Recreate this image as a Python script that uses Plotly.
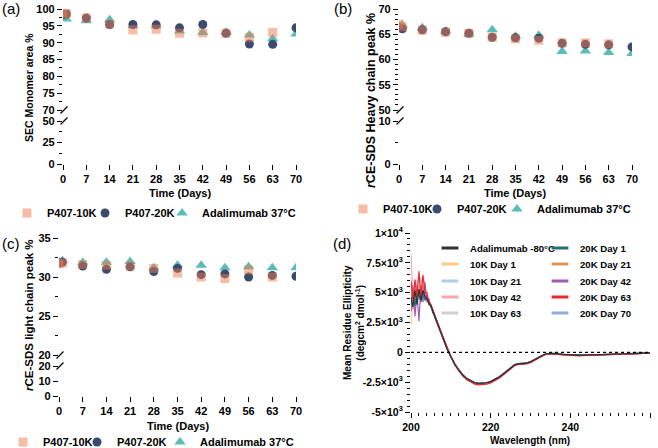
import plotly.graph_objects as go

# ---------------- data ----------------
days = [0, 1, 7, 14, 21, 28, 35, 42, 49, 56, 63, 70]
day_ticks = [0, 7, 14, 21, 28, 35, 42, 49, 56, 63, 70]

sec_10k = [98.5, 98.7, 97.3, 95.5, 93.8, 94.0, 92.8, 92.9, 92.8, 91.6, 93.0, None]
sec_20k = [98.3, 98.5, 97.3, 95.4, 95.4, 95.3, 94.4, 95.4, 92.8, 89.6, 89.5, 94.4]
sec_adal = [97.6, 97.0, 96.5, 96.8, 95.0, 95.0, 93.5, 93.0, 93.1, 92.3, 91.2, 92.6]

hc_10k = [67.0, 66.5, 65.8, 65.4, 65.2, 64.4, 64.1, 63.8, 63.3, 63.3, 63.1, None]
hc_20k = [66.3, 66.1, 65.9, 65.5, 65.2, 64.4, 64.3, 64.2, 63.2, 63.0, 62.9, 62.5]
hc_adal = [66.6, 66.8, 66.3, 65.6, 65.0, 65.9, 64.6, 64.8, 61.6, 61.7, 61.4, 61.2]

lc_10k = [31.7, 31.8, 31.6, 31.5, 31.4, 31.1, 30.5, 30.0, 29.8, 30.9, 30.0, None]
lc_20k = [31.8, 31.9, 31.4, 31.0, 31.3, 30.7, 31.1, 30.3, 30.4, 30.0, 30.2, 30.1]
lc_adal = [31.9, 32.1, 31.9, 31.9, 32.0, 31.2, 31.5, 31.5, 31.2, 31.3, 31.2, 31.2]

series_names = ["P407-10K", "P407-20K", "Adalimumab 37°C"]

# CD spectra (x10^3 deg cm2 dmol-1)
wavelength = [200, 200.5, 201, 201.5, 202, 202.5, 203, 203.5, 204, 204.5, 205, 205.5, 206,
              207, 208, 209, 210, 211, 212, 213, 214, 215, 216, 217, 218, 219, 220,
              221, 222, 223, 224, 225, 226, 227, 228, 229, 230, 231, 232, 233, 234, 235, 236,
              238, 240, 242, 244, 246, 248, 250, 252, 254, 256, 258, 260]

cd_names = ["Adalimumab -80°C", "10K Day 1", "10K Day 21", "10K Day 42", "10K Day 63",
            "20K Day 1", "20K Day 21", "20K Day 42", "20K Day 63", "20K Day 70"]

cd_head = {
    "Adalimumab -80°C": [4.6, 3.8, 5.2, 4.0, 5.3, 4.4, 5.2, 4.7, 4.5, 4.1, 3.9, 3.4, 3.0],
    "10K Day 1": [2.3, 4.9, 4.2, 5.6, 4.8, 5.9, 4.6, 5.2, 4.3, 4.4, 3.8, 3.5, 2.9],
    "10K Day 21": [3.5, 5.3, 4.3, 6.1, 4.4, 6.3, 4.9, 5.5, 4.4, 4.3, 3.9, 3.3, 3.1],
    "10K Day 42": [8.3, 4.2, 5.8, 4.1, 5.6, 4.9, 5.8, 4.6, 4.7, 4.0, 4.0, 3.4, 3.0],
    "10K Day 63": [5.2, 4.3, 4.9, 5.0, 4.6, 5.4, 4.8, 4.9, 4.3, 4.2, 3.8, 3.4, 3.0],
    "20K Day 1": [4.2, 5.0, 3.9, 4.9, 4.8, 4.2, 5.1, 4.4, 4.6, 4.0, 3.9, 3.3, 3.0],
    "20K Day 21": [5.5, 3.6, 5.4, 4.5, 5.2, 4.8, 5.6, 4.3, 4.8, 4.1, 3.9, 3.4, 3.1],
    "20K Day 42": [3.4, 5.6, 3.0, 5.0, 2.6, 5.6, 4.2, 5.9, 4.2, 4.5, 3.8, 3.5, 2.9],
    "20K Day 63": [6.0, 4.4, 6.1, 4.7, 6.8, 4.5, 6.5, 5.0, 5.0, 4.2, 4.0, 3.5, 3.1],
    "20K Day 70": [5.0, 4.6, 5.2, 5.6, 4.9, 5.1, 5.5, 4.8, 4.6, 4.3, 3.9, 3.4, 3.0],
}
cd_tail = {
    "Adalimumab -80°C": [2.1, 1.2, 0.35, -0.35, -1.0, -1.5, -1.9, -2.2, -2.4, -2.55, -2.6, -2.6, -2.55, -2.45,
                         -2.3, -2.1, -1.85, -1.6, -1.3, -1.05, -0.95, -0.97, -0.9, -0.8, -0.62, -0.45, -0.25,
                         -0.12, -0.08, -0.1, -0.17, -0.22, -0.25, -0.23, -0.22, -0.19, -0.17, -0.14, -0.12,
                         -0.1, -0.07, -0.06],
    "10K Day 1": [2.0, 1.15, 0.3, -0.4, -1.05, -1.55, -1.95, -2.25, -2.45, -2.6, -2.66, -2.64, -2.58, -2.48,
                  -2.32, -2.12, -1.88, -1.62, -1.32, -1.08, -0.98, -0.96, -0.92, -0.82, -0.62, -0.47, -0.27,
                  -0.14, -0.1, -0.13, -0.22, -0.28, -0.3, -0.27, -0.25, -0.22, -0.2, -0.17, -0.13,
                  -0.11, -0.1, -0.07],
    "10K Day 21": [2.15, 1.25, 0.38, -0.38, -1.03, -1.55, -1.95, -2.26, -2.47, -2.62, -2.7, -2.68, -2.6, -2.5,
                   -2.33, -2.13, -1.88, -1.62, -1.33, -1.07, -0.97, -0.97, -0.92, -0.81, -0.6, -0.45, -0.26,
                   -0.12, -0.08, -0.11, -0.19, -0.23, -0.25, -0.24, -0.21, -0.2, -0.17, -0.15, -0.12,
                   -0.1, -0.08, -0.05],
    "10K Day 42": [2.12, 1.22, 0.36, -0.36, -1.02, -1.52, -1.93, -2.23, -2.43, -2.58, -2.65, -2.63, -2.57, -2.47,
                   -2.31, -2.11, -1.86, -1.61, -1.31, -1.06, -0.96, -0.96, -0.91, -0.8, -0.61, -0.46, -0.25,
                   -0.12, -0.09, -0.1, -0.18, -0.22, -0.24, -0.24, -0.22, -0.2, -0.17, -0.14, -0.12,
                   -0.1, -0.08, -0.06],
    "10K Day 63": [2.08, 1.18, 0.33, -0.37, -1.01, -1.51, -1.91, -2.21, -2.41, -2.56, -2.63, -2.61, -2.56, -2.46,
                   -2.3, -2.1, -1.85, -1.6, -1.3, -1.05, -0.95, -0.95, -0.9, -0.8, -0.6, -0.45, -0.25,
                   -0.12, -0.08, -0.1, -0.18, -0.22, -0.25, -0.24, -0.22, -0.2, -0.17, -0.15, -0.12,
                   -0.1, -0.08, -0.06],
    "20K Day 1": [2.1, 1.2, 0.34, -0.36, -1.0, -1.5, -1.9, -2.2, -2.4, -2.54, -2.6, -2.59, -2.54, -2.44,
                  -2.29, -2.09, -1.84, -1.59, -1.29, -1.04, -0.94, -0.94, -0.89, -0.79, -0.59, -0.44, -0.24,
                  -0.11, -0.07, -0.09, -0.17, -0.21, -0.24, -0.23, -0.21, -0.19, -0.16, -0.14, -0.11,
                  -0.09, -0.07, -0.05],
    "20K Day 21": [2.05, 1.17, 0.32, -0.38, -1.03, -1.53, -1.93, -2.23, -2.43, -2.58, -2.64, -2.62, -2.57, -2.47,
                   -2.31, -2.11, -1.86, -1.61, -1.31, -1.06, -0.96, -0.96, -0.91, -0.81, -0.61, -0.46, -0.26,
                   -0.13, -0.1, -0.12, -0.2, -0.25, -0.27, -0.26, -0.24, -0.22, -0.19, -0.16, -0.13,
                   -0.11, -0.09, -0.07],
    "20K Day 42": [2.1, 1.2, 0.35, -0.35, -1.0, -1.5, -1.9, -2.2, -2.4, -2.55, -2.62, -2.6, -2.55, -2.45,
                   -2.3, -2.1, -1.85, -1.6, -1.3, -1.05, -0.95, -0.95, -0.9, -0.8, -0.6, -0.45, -0.25,
                   -0.12, -0.08, -0.1, -0.18, -0.22, -0.25, -0.24, -0.22, -0.2, -0.17, -0.15, -0.12,
                   -0.1, -0.08, -0.06],
    "20K Day 63": [2.2, 1.3, 0.4, -0.38, -1.06, -1.58, -2.0, -2.3, -2.5, -2.66, -2.73, -2.72, -2.66, -2.56,
                   -2.4, -2.2, -1.95, -1.68, -1.38, -1.12, -1.02, -1.02, -0.96, -0.86, -0.66, -0.5, -0.3,
                   -0.16, -0.12, -0.14, -0.21, -0.25, -0.27, -0.26, -0.24, -0.22, -0.19, -0.16, -0.13,
                   -0.11, -0.09, -0.07],
    "20K Day 70": [2.12, 1.22, 0.37, -0.33, -0.98, -1.48, -1.88, -2.19, -2.4, -2.56, -2.65, -2.64, -2.58, -2.47,
                   -2.31, -2.11, -1.86, -1.61, -1.31, -1.06, -0.96, -0.95, -0.9, -0.8, -0.6, -0.45, -0.25,
                   -0.12, -0.08, -0.1, -0.18, -0.22, -0.24, -0.24, -0.22, -0.2, -0.17, -0.15, -0.12,
                   -0.1, -0.08, -0.06],
}
for _n in cd_names:
    assert len(cd_head[_n]) + len(cd_tail[_n]) == len(wavelength), _n

cd_tickvals = [-5, -2.5, 0, 2.5, 5, 7.5, 10]
cd_ticktext = ["-5×10<sup>3</sup>", "-2.5×10<sup>3</sup>", "0", "2.5×10<sup>3</sup>",
               "5×10<sup>3</sup>", "7.5×10<sup>3</sup>", "1×10<sup>4</sup>"]

# ---------------- styling ----------------
W, H = 658, 448
def px(x): return x / W
def py(y): return 1 - y / H

FONT = "Liberation Sans, Arial, sans-serif"
C10 = "rgba(236,122,78,0.5)"
C20 = "#3C4A6E"
CAD = "#5BBDB6"
cd_colors = {
    "Adalimumab -80°C": "#333333",
    "10K Day 1": "#FBC98A",
    "10K Day 21": "#AFCDE6",
    "10K Day 42": "#F7A8A8",
    "10K Day 63": "#CFCFCF",
    "20K Day 1": "#2B6B7A",
    "20K Day 21": "#D9955B",
    "20K Day 42": "#9E5BB5",
    "20K Day 63": "#F2262C",
    "20K Day 70": "#8FB0D8",
}

tickfont = dict(family=FONT, size=11, color="black", weight="bold")
def axis(**kw):
    base = dict(showline=True, linecolor="black", linewidth=1.3, ticks="outside", ticklen=5,
                tickwidth=1.3, tickcolor="black", showgrid=False, zeroline=False,
                tickfont=tickfont, fixedrange=True)
    base.update(kw)
    return base

def minor(**kw):
    d = dict(ticks="outside", ticklen=3, tickwidth=1.1, tickcolor="black", showgrid=False)
    d.update(kw)
    return d

fig = go.Figure()

legend_cfgs = {}
def add_legend(key, text_x, yc, size=11):
    # legend entry text starts ~40 px right of the legend's left edge
    legend_cfgs[key] = dict(x=px(max(text_x - 40, 0)), y=py(yc), xanchor="left", yanchor="middle",
                            orientation="h", bgcolor="rgba(0,0,0,0)", borderwidth=0,
                            font=dict(family=FONT, size=size, color="black", weight="bold"),
                            itemclick=False, itemdoubleclick=False)

# panels a, b, c: (xbottom, ybottom, xtop, ytop, data, legend text positions)
panels = [
    ("x", "y", "x2", "y2", [sec_10k, sec_20k, sec_adal], [(47, 213), (125, 213), (202, 213)]),
    ("x3", "y3", "x4", "y4", [hc_10k, hc_20k, hc_adal], [(383, 209), (457, 209), (537, 209)]),
    ("x5", "y5", "x6", "y6", [lc_10k, lc_20k, lc_adal], [(43, 442), (117, 442), (200, 442)]),
]
styles = [
    dict(symbol="square", size=9, color=C10, z=3),
    dict(symbol="circle", size=9, color=C20, z=2),
    dict(symbol="triangle-up", size=10, color=CAD, z=1),
]
leg_idx = 1
for xb, yb, xt, yt, data, legpos in panels:
    fig.add_trace(go.Scatter(x=[None], y=[None], xaxis=xb, yaxis=yb, showlegend=False,
                             mode="markers", hoverinfo="skip"))
    for vals, st, name, (lx, ly) in zip(data, styles, series_names, legpos):
        key = "legend" if leg_idx == 1 else f"legend{leg_idx}"
        add_legend(key, lx, ly)
        leg_idx += 1
        fig.add_trace(go.Scatter(
            x=days, y=vals, name=name, mode="markers", xaxis=xt, yaxis=yt,
            marker=dict(symbol=st["symbol"], size=st["size"], color=st["color"], line=dict(width=0)),
            cliponaxis=False, zorder=st["z"], legend=key))

# panel d: spectra
draw_order = ["10K Day 63", "10K Day 21", "10K Day 42", "10K Day 1", "20K Day 70",
              "20K Day 21", "20K Day 42", "20K Day 1", "20K Day 63", "Adalimumab -80°C"]
for z, n in enumerate(draw_order):
    fig.add_trace(go.Scatter(
        x=wavelength, y=cd_head[n] + cd_tail[n], mode="lines", name=n,
        line=dict(color=cd_colors[n], width=1.2 if n != "20K Day 70" else 1.6),
        xaxis="x7", yaxis="y7", showlegend=False, zorder=z))

row_y = [248, 264, 281, 297, 313]
col1 = ["Adalimumab -80°C", "10K Day 1", "10K Day 21", "10K Day 42", "10K Day 63"]
col2 = ["20K Day 1", "20K Day 21", "20K Day 42", "20K Day 63", "20K Day 70"]
for col, xtext in ((col1, 470), (col2, 580)):
    for n, yy in zip(col, row_y):
        key = f"legend{leg_idx}"
        leg_idx += 1
        add_legend(key, xtext, yy, size=9.6)
        fig.add_trace(go.Scatter(x=[None], y=[None], mode="markers", name=n,
                                 marker=dict(symbol="line-ew", size=12,
                                             line=dict(color=cd_colors[n], width=3)),
                                 xaxis="x7", yaxis="y7", legend=key))

layout = dict(
    width=W, height=H, margin=dict(l=0, r=0, t=0, b=0, autoexpand=False),
    paper_bgcolor="white", plot_bgcolor="rgba(0,0,0,0)",
    font=dict(family=FONT, color="black"),
    # panel a
    xaxis=axis(domain=[px(63), px(296)], range=[0, 70], tickvals=day_ticks, anchor="y"),
    yaxis=axis(domain=[py(164), py(121)], range=[0, 50], tickvals=[0, 25, 50], anchor="x",
               minor=minor(tickvals=[12.5, 37.5])),
    xaxis2=dict(domain=[px(63), px(296)], range=[0, 70], matches="x", visible=False, anchor="y2"),
    yaxis2=axis(domain=[py(110), py(9)], range=[70, 100], tickvals=[70, 75, 80, 85, 90, 95, 100],
                anchor="x2", minor=minor(tick0=70, dtick=2.5)),
    # panel b
    xaxis3=axis(domain=[px(399), px(632)], range=[0, 70], tickvals=day_ticks, anchor="y3"),
    yaxis3=axis(domain=[py(164), py(121)], range=[0, 10], tickvals=[0, 10], anchor="x3",
                minor=minor(tickvals=[5])),
    xaxis4=dict(domain=[px(399), px(632)], range=[0, 70], matches="x3", visible=False, anchor="y4"),
    yaxis4=axis(domain=[py(110), py(9)], range=[50, 70], tickvals=[50, 55, 60, 65, 70],
                anchor="x4", minor=minor(tick0=50, dtick=1)),
    # panel c
    xaxis5=axis(domain=[px(59), px(296)], range=[0, 70], tickvals=day_ticks, anchor="y5"),
    yaxis5=axis(domain=[py(396), py(366)], range=[0, 20], tickvals=[0, 10, 20], anchor="x5"),
    xaxis6=dict(domain=[px(59), px(296)], range=[0, 70], matches="x5", visible=False, anchor="y6"),
    yaxis6=axis(domain=[py(355), py(238)], range=[20, 35], tickvals=[20, 25, 30, 35],
                anchor="x6", minor=minor(tick0=20, dtick=2.5)),
    # panel d
    xaxis7=axis(domain=[px(411), px(650)], range=[200, 260], tickvals=[200, 220, 240, 260],
                anchor="y7", tickfont=dict(family=FONT, size=10.5, color="black", weight="bold"),
                minor=minor(tick0=200, dtick=2)),
    yaxis7=axis(domain=[py(412), py(233)], range=[-5, 10], tickvals=cd_tickvals, ticktext=cd_ticktext,
                anchor="x7", tickfont=dict(family=FONT, size=10.5, color="black", weight="bold"),
                minor=minor(tick0=-5, dtick=0.5)),
)
layout.update(legend_cfgs)
fig.update_layout(**layout)

# zero reference line in (d)
fig.add_shape(type="line", xref="x7 domain", yref="y7", x0=0, x1=1, y0=0, y1=0,
              line=dict(color="black", width=1.3, dash="dot"))

# axis break marks
def slash(xc, yc, s=3.5):
    fig.add_shape(type="line", xref="paper", yref="paper",
                  x0=px(xc - s), y0=py(yc + s), x1=px(xc + s), y1=py(yc - s),
                  line=dict(color="black", width=1.2))
for xa, y1, y2 in ((63, 110, 121), (399, 110, 121), (59, 355, 366)):
    slash(xa + 1, y1)
    slash(xa + 1, y2)

def ann(text, x, y, size=11, angle=0, bold=True, xanchor="center"):
    fig.add_annotation(text=text, x=px(x), y=py(y), xref="paper", yref="paper", showarrow=False,
                       textangle=angle, xanchor=xanchor, yanchor="middle",
                       font=dict(family=FONT, size=size, color="black",
                                 weight="bold" if bold else "normal"))

# axis titles
ann("SEC Monomer area %", 29, 88, size=10.5, angle=-90)
ann("<i>r</i>CE-SDS Heavy chain peak %", 371, 101, size=12.5, angle=-90)
ann("<i>r</i>CE-SDS light chain peak %", 29, 316, size=11.5, angle=-90)
ann("Mean Residue Ellipticity<br>(degcm<sup>2</sup> dmol<sup>-1</sup>)", 354, 323, size=10, angle=-90)
ann("Time (Days)", 180, 193)
ann("Time (Days)", 515, 193)
ann("Time (Days)", 178, 426)
ann("Wavelength (nm)", 530, 440, size=10)

# panel labels
ann("(a)", 0, 8, size=15, bold=False, xanchor="left")
ann("(b)", 332, 8, size=15, bold=False, xanchor="left")
ann("(c)", 0, 244, size=15, bold=False, xanchor="left")
ann("(d)", 331, 243, size=15, bold=False, xanchor="left")

fig.write_html("out.html")
